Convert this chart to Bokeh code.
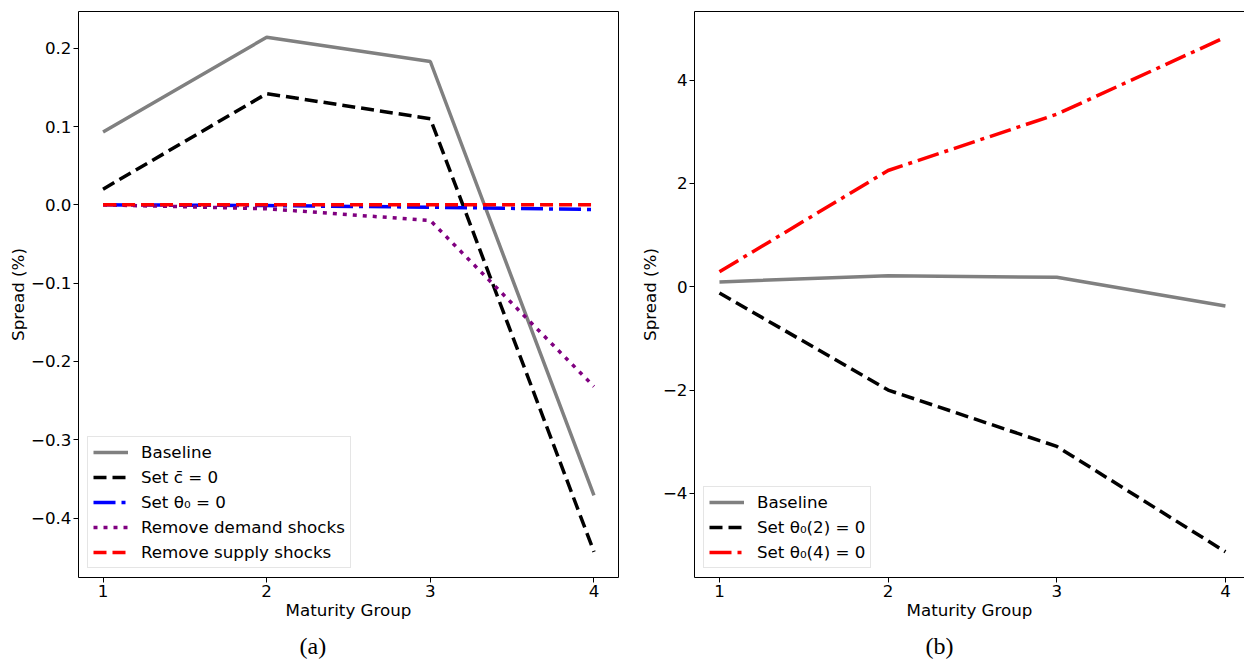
from bokeh.plotting import figure
from bokeh.models import Range1d, FixedTicker, Title, LinearAxis
from bokeh.layouts import row
from bokeh.embed import file_html
from bokeh.resources import INLINE

# ---- data ----
maturity = [1, 2, 3, 4]
x_ticks = [1, 2, 3, 4]
x_labels = ["1", "2", "3", "4"]

a_baseline = [0.093, 0.214, 0.183, -0.371]
a_cbar0 = [0.020, 0.142, 0.110, -0.443]
a_theta0 = [0.000, -0.001, -0.003, -0.006]
a_no_demand = [0.000, -0.005, -0.020, -0.232]
a_no_supply = [0.000, 0.000, 0.000, 0.000]

b_baseline = [0.093, 0.214, 0.183, -0.371]
b_theta2 = [-0.12, -2.00, -3.09, -5.13]
b_theta4 = [0.29, 2.25, 3.34, 4.83]

a_y_ticks = [-0.4, -0.3, -0.2, -0.1, 0.0, 0.1, 0.2]
a_y_labels = ["\u22120.4", "\u22120.3", "\u22120.2", "\u22120.1", "0.0", "0.1", "0.2"]
b_y_ticks = [-4, -2, 0, 2, 4]
b_y_labels = ["\u22124", "\u22122", "0", "2", "4"]

FONT = "DejaVu Sans"
FS = "16.7px"
LW = 3.5
DASH = "13 6"
DASHDOT = "22 6 4 6"
DOT = "4 6"


def pad_range(vals, frac=0.05):
    lo, hi = min(vals), max(vals)
    d = (hi - lo) * frac
    return lo - d, hi + d


def style(p, yticks, ylabels, caption, cap_offset, outline=True):
    p.xaxis.ticker = FixedTicker(ticks=x_ticks)
    p.xaxis.major_label_overrides = dict(zip(x_ticks, x_labels))
    p.yaxis.ticker = FixedTicker(ticks=yticks)
    p.yaxis.major_label_overrides = dict(zip(yticks, ylabels))
    for ax in (p.xaxis, p.yaxis):
        ax.axis_line_color = None if outline else "black"
        ax.axis_line_width = 1
        ax.major_tick_line_color = "black"
        ax.major_tick_out = 5
        ax.major_tick_in = 0
        ax.minor_tick_line_color = None
        ax.major_label_text_font = FONT
        ax.major_label_text_font_size = FS
        ax.major_label_text_color = "black"
        ax.axis_label_text_font = FONT
        ax.axis_label_text_font_size = FS
        ax.axis_label_text_font_style = "normal"
        ax.axis_label_text_color = "black"
        ax.major_label_standoff = 2
        ax.axis_label_standoff = 0
    p.xaxis.axis_label = "Maturity Group"
    p.yaxis.axis_label = "Spread (%)"
    p.xgrid.grid_line_color = None
    p.ygrid.grid_line_color = None
    if outline:
        p.outline_line_color = "black"
        p.outline_line_width = 1
        p.outline_line_alpha = 1
    else:
        p.outline_line_color = None
        top = LinearAxis(ticker=FixedTicker(ticks=[]), axis_line_color="black",
                         axis_line_width=1, major_tick_line_color=None,
                         minor_tick_line_color=None,
                         major_label_text_font_size="0px")
        p.add_layout(top, "above")
    p.add_layout(Title(text=caption, align="left", offset=cap_offset,
                       text_font="Liberation Serif", text_font_size="24px",
                       text_font_style="normal", text_color="black",
                       standoff=17), "below")
    lg = p.legend[0]
    lg.location = "bottom_left"
    lg.margin = 9
    lg.padding = 5
    lg.spacing = 5
    lg.label_height = 20
    lg.glyph_height = 20
    lg.glyph_width = 35
    lg.label_standoff = 13
    lg.label_text_font = FONT
    lg.label_text_font_size = FS
    lg.label_text_color = "black"
    lg.border_line_color = "#cccccc"
    lg.border_line_width = 1
    lg.background_fill_alpha = 0.8


# ---- panel (a) ----
ya = pad_range(a_baseline + a_cbar0 + a_theta0 + a_no_demand + a_no_supply)
pa = figure(width=630, height=668, output_backend="svg", toolbar_location=None,
            x_range=Range1d(0.85, 4.15), y_range=Range1d(*ya),
            min_border_left=78, min_border_right=12, min_border_top=11,
            min_border_bottom=91, background_fill_color="white",
            border_fill_color="white")
pa.line(maturity, a_baseline, color="#808080", line_width=LW, legend_label="Baseline")
pa.line(maturity, a_cbar0, color="black", line_width=LW, line_dash=DASH,
        legend_label="Set c\u0304 = 0")
pa.line(maturity, a_theta0, color="#0000ff", line_width=LW, line_dash=DASHDOT,
        legend_label="Set \u03b8\u2080 = 0")
pa.line(maturity, a_no_demand, color="#800080", line_width=LW, line_dash=DOT,
        legend_label="Remove demand shocks")
pa.line(maturity, a_no_supply, color="#ff0000", line_width=LW, line_dash=DASH,
        legend_label="Remove supply shocks")
style(pa, a_y_ticks, a_y_labels, "(a)", 221)

# ---- panel (b) ----
yb = pad_range(b_baseline + b_theta2 + b_theta4)
pb = figure(width=614, height=668, output_backend="svg", toolbar_location=None,
            x_range=Range1d(0.852, 4.113), y_range=Range1d(*yb),
            min_border_left=64, min_border_right=0, min_border_top=11,
            min_border_bottom=91, background_fill_color="white",
            border_fill_color="white")
pb.line(maturity, b_baseline, color="#808080", line_width=LW, legend_label="Baseline")
pb.line(maturity, b_theta2, color="black", line_width=LW, line_dash=DASH,
        legend_label="Set \u03b8\u2080(2) = 0")
pb.line(maturity, b_theta4, color="#ff0000", line_width=LW, line_dash=DASHDOT,
        legend_label="Set \u03b8\u2080(4) = 0")
style(pb, b_y_ticks, b_y_labels, "(b)", 231, outline=False)

layout = row(pa, pb)
open("out.html", "w").write(file_html(layout, INLINE))
